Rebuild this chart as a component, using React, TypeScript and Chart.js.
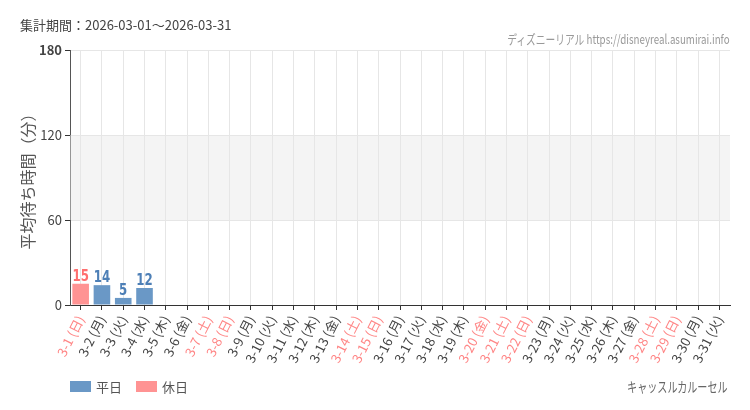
import { useEffect, useRef } from "react"
import { Chart, registerables } from "chart.js"

Chart.register(...registerables)

// Days of March 2026 with weekday
const DAY_LABELS = [
  "3-1 (日)", "3-2 (月)", "3-3 (火)", "3-4 (水)", "3-5 (木)", "3-6 (金)", "3-7 (土)",
  "3-8 (日)", "3-9 (月)", "3-10 (火)", "3-11 (水)", "3-12 (木)", "3-13 (金)", "3-14 (土)",
  "3-15 (日)", "3-16 (月)", "3-17 (火)", "3-18 (水)", "3-19 (木)", "3-20 (金)", "3-21 (土)",
  "3-22 (日)", "3-23 (月)", "3-24 (火)", "3-25 (水)", "3-26 (木)", "3-27 (金)", "3-28 (土)",
  "3-29 (日)", "3-30 (月)", "3-31 (火)",
]

// true = 休日 (weekend / public holiday)
const IS_HOLIDAY = [
  true, false, false, false, false, false, true,
  true, false, false, false, false, false, true,
  true, false, false, false, false, true, true,
  true, false, false, false, false, false, true,
  true, false, false,
]

// average wait time (minutes), null = no data
const WAIT_TIMES = [
  15, 14, 5, 12, null, null, null,
  null, null, null, null, null, null, null,
  null, null, null, null, null, null, null,
  null, null, null, null, null, null, null,
  null, null, null,
]

const Y_TICKS = [0, 60, 120, 180]
const BAND_RANGE = [60, 120]

const WEEKDAY_COLOR = "#6a98c6"
const HOLIDAY_COLOR = "#ff9393"
const WEEKDAY_LABEL_COLOR = "#4d7fb6"
const HOLIDAY_LABEL_COLOR = "#ff6f6f"
const HOLIDAY_TICK_COLOR = "#ff8585"

const FONT = '"Noto Sans CJK JP", "Noto Sans", sans-serif'

// grey band between 60 and 120
const bandPlugin = {
  id: "band",
  beforeDatasetsDraw(chart: any) {
    const { ctx, chartArea, scales } = chart
    const yTop = scales.y.getPixelForValue(BAND_RANGE[1])
    const yBottom = scales.y.getPixelForValue(BAND_RANGE[0])
    ctx.save()
    ctx.fillStyle = "rgba(230,230,230,0.45)"
    ctx.fillRect(chartArea.left, yTop, chartArea.right - chartArea.left, yBottom - yTop)
    ctx.restore()
  },
}

// value labels above bars (condensed look)
const valueLabelPlugin = {
  id: "valueLabels",
  afterDatasetsDraw(chart: any) {
    const { ctx } = chart
    const meta = chart.getDatasetMeta(0)
    ctx.save()
    ctx.font = 'bold 16px "Liberation Sans Narrow", "DejaVu Sans Condensed", sans-serif'
    ctx.textAlign = "center"
    ctx.textBaseline = "alphabetic"
    meta.data.forEach((bar: any, i: number) => {
      const v = WAIT_TIMES[i]
      if (v === null || v === undefined) return
      ctx.fillStyle = IS_HOLIDAY[i] ? HOLIDAY_LABEL_COLOR : WEEKDAY_LABEL_COLOR
      ctx.save()
      ctx.translate(bar.x, bar.y - 3)
      ctx.scale(0.82, 1)
      ctx.fillText(String(v), 0, 0)
      ctx.restore()
    })
    ctx.restore()
  },
}

export default function App() {
  const chartRef = useRef<HTMLCanvasElement>(null)
  const chartInstance = useRef<Chart | null>(null)

  useEffect(() => {
    if (!chartRef.current) return
    if (chartInstance.current) chartInstance.current.destroy()

    const ctx = chartRef.current.getContext("2d")
    if (!ctx) return

    Chart.defaults.font.family = FONT

    chartInstance.current = new Chart(ctx, {
      type: "bar",
      data: {
        labels: DAY_LABELS,
        datasets: [
          {
            label: "待ち時間",
            data: WAIT_TIMES,
            backgroundColor: IS_HOLIDAY.map((h) => (h ? HOLIDAY_COLOR : WEEKDAY_COLOR)),
            categoryPercentage: 1,
            barPercentage: 0.78,
          },
        ],
      },
      options: {
        responsive: false,
        animation: false,
        layout: { padding: { top: 50, right: 20, left: 0, bottom: 0 } },
        plugins: {
          legend: { display: false },
          tooltip: { enabled: false },
        },
        scales: {
          x: {
            afterFit: (scale: any) => {
              scale.height = 105
            },
            grid: {
              offset: false,
              color: "#e6e6e6",
              tickColor: "#333",
              tickLength: 5,
            },
            border: { color: "#333" },
            ticks: {
              autoSkip: false,
              maxRotation: 63,
              minRotation: 63,
              padding: 3,
              font: { size: 13 },
              color: (c: any) => (IS_HOLIDAY[c.index] ? HOLIDAY_TICK_COLOR : "#444"),
            },
          },
          y: {
            min: 0,
            max: 180,
            afterFit: (scale: any) => {
              scale.width = 70
            },
            afterBuildTicks: (scale: any) => {
              scale.ticks = Y_TICKS.map((v) => ({ value: v }))
            },
            grid: {
              color: (c: any) => (c.tick && c.tick.value === 0 ? "#333" : "#e6e6e6"),
              tickColor: "#333",
              tickLength: 5,
            },
            border: { color: "#555" },
            ticks: {
              padding: 3,
              color: "#444",
              font: (c: any) =>
                c.tick && c.tick.value === 180 ? { size: 13, weight: "bold" } : { size: 13 },
            },
            title: {
              display: true,
              text: "平均待ち時間（分）",
              color: "#555",
              font: { size: 16 },
              padding: { top: 18, bottom: 0 },
            },
          },
        },
      },
      plugins: [bandPlugin, valueLabelPlugin],
    })

    return () => {
      if (chartInstance.current) {
        chartInstance.current.destroy()
        chartInstance.current = null
      }
    }
  }, [])

  return (
    <div
      style={{
        position: "fixed",
        left: 0,
        top: 0,
        width: 750,
        height: 410,
        background: "#fff",
        fontFamily: FONT,
        overflow: "hidden",
      }}
    >
      <canvas ref={chartRef} width={750} height={410} style={{ position: "absolute", left: 0, top: 0 }} />
      <div style={{ position: "absolute", left: 20, top: 17, fontSize: 13, lineHeight: "16px", color: "#444" }}>
        集計期間：2026-03-01～2026-03-31
      </div>
      <div
        style={{
          position: "absolute",
          right: 20,
          top: 31,
          fontSize: 13,
          lineHeight: "16px",
          color: "#999",
          whiteSpace: "nowrap",
          transform: "scaleX(0.75)",
          transformOrigin: "right center",
        }}
      >
        ディズニーリアル https://disneyreal.asumirai.info
      </div>
      <div style={{ position: "absolute", left: 70, top: 377, display: "flex", alignItems: "center", fontSize: 13, color: "#555" }}>
        <span style={{ display: "inline-block", width: 21, height: 11, background: WEEKDAY_COLOR, marginRight: 5 }} />
        <span style={{ marginRight: 14 }}>平日</span>
        <span style={{ display: "inline-block", width: 21, height: 11, background: HOLIDAY_COLOR, marginRight: 5 }} />
        <span>休日</span>
      </div>
      <div
        style={{
          position: "absolute",
          right: 22,
          top: 378,
          fontSize: 14,
          lineHeight: "16px",
          color: "#666",
          whiteSpace: "nowrap",
          transform: "scaleX(0.72)",
          transformOrigin: "right center",
        }}
      >
        キャッスルカルーセル
      </div>
    </div>
  )
}
